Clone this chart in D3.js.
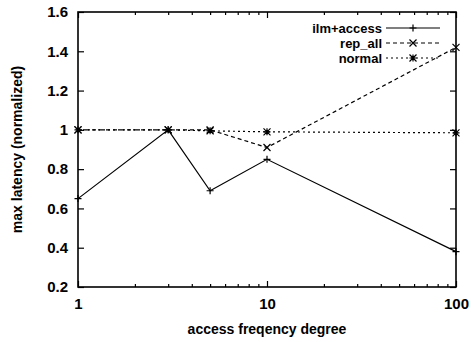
<!DOCTYPE html>
<html>
<head>
<meta charset="utf-8">
<script src="https://cdn.jsdelivr.net/npm/d3@7"></script>
<style>
  body { margin: 0; background: #fff; }
  text { font-family: "Liberation Sans", Arial, sans-serif; font-weight: bold; fill: #000; }
</style>
</head>
<body>
<div id="chart"></div>
<script>
// data
var degrees = [1, 3, 5, 10, 100];
var ilmAccess = [0.65, 1.0, 0.69, 0.85, 0.38];
var repAll = [1.0, 1.0, 1.0, 0.91, 1.42];
var normal = [1.0, 1.0, 0.995, 0.99, 0.985];
var seriesNames = ["ilm+access", "rep_all", "normal"];
var yTicks = [0.2, 0.4, 0.6, 0.8, 1, 1.2, 1.4, 1.6];
var xTicks = [1, 10, 100];

var svgWidth = 471, svgHeight = 342;
var margin = {top: 12, right: 15, bottom: 55, left: 78};
var width = svgWidth - margin.left - margin.right;
var height = svgHeight - margin.top - margin.bottom;

var svg = d3.select("#chart").append("svg")
  .attr("width", svgWidth)
  .attr("height", svgHeight);
var chartGroup = svg.append("g")
  .attr("transform", `translate(${margin.left}, ${margin.top})`);

var x = d3.scaleLog().domain([1, 100]).range([0, width]);
var y = d3.scaleLinear().domain([0.2, 1.6]).range([height, 0]);

// minor ticks for the log axis
var minor = [];
[1, 10].forEach(function (d) {
  for (var k = 2; k <= 9; k++) minor.push(d * k);
});

// bottom + top axes
chartGroup.append("g")
  .attr("transform", `translate(0, ${height})`)
  .call(d3.axisBottom(x).tickValues(xTicks).tickFormat(d3.format("d")).tickSizeInner(-6).tickSizeOuter(0).tickPadding(11))
  .call(g => g.select(".domain").remove());
chartGroup.append("g")
  .attr("transform", `translate(0, ${height})`)
  .call(d3.axisBottom(x).tickValues(minor).tickFormat("").tickSizeInner(-3).tickSizeOuter(0))
  .call(g => g.select(".domain").remove());
chartGroup.append("g")
  .call(d3.axisTop(x).tickValues(xTicks).tickFormat("").tickSizeInner(-6).tickSizeOuter(0))
  .call(g => g.select(".domain").remove());
chartGroup.append("g")
  .call(d3.axisTop(x).tickValues(minor).tickFormat("").tickSizeInner(-3).tickSizeOuter(0))
  .call(g => g.select(".domain").remove());

// left + right axes
chartGroup.append("g")
  .call(d3.axisLeft(y).tickValues(yTicks).tickFormat(d3.format("~g")).tickSizeInner(-6).tickSizeOuter(0).tickPadding(10))
  .call(g => g.select(".domain").remove());
chartGroup.append("g")
  .attr("transform", `translate(${width}, 0)`)
  .call(d3.axisRight(y).tickValues(yTicks).tickFormat("").tickSizeInner(-6).tickSizeOuter(0))
  .call(g => g.select(".domain").remove());

chartGroup.selectAll(".tick text").style("font-size", "15px").style("font-family", "Liberation Sans, Arial, sans-serif").style("font-weight", "bold");
chartGroup.selectAll(".tick line").attr("stroke", "#000").attr("stroke-width", 1.2);

// frame
chartGroup.append("rect")
  .attr("width", width).attr("height", height)
  .attr("fill", "none").attr("stroke", "#000").attr("stroke-width", 1.6);

// markers in gnuplot style
function markerPath(type, s) {
  if (type === 0) return `M${-s},0H${s}M0,${-s}V${s}`;
  if (type === 1) return `M${-s},${-s}L${s},${s}M${-s},${s}L${s},${-s}`;
  return `M${-s},0H${s}M0,${-s}V${s}M${-s},${-s}L${s},${s}M${-s},${s}L${s},${-s}`;
}
var dashes = [null, "4,3", "2,3"];
var allSeries = [ilmAccess, repAll, normal];

var line = d3.line()
  .x(d => x(d[0]))
  .y(d => y(d[1]));

allSeries.forEach(function (vals, i) {
  var pts = degrees.map((d, j) => [d, vals[j]]);
  chartGroup.append("path")
    .datum(pts)
    .attr("d", line)
    .attr("fill", "none")
    .attr("stroke", "#000")
    .attr("stroke-width", 1.2)
    .attr("stroke-dasharray", dashes[i]);
  chartGroup.selectAll(".m" + i)
    .data(pts)
    .enter()
    .append("path")
    .attr("transform", d => `translate(${x(d[0])}, ${y(d[1])})`)
    .attr("d", markerPath(i, 3.5))
    .attr("fill", "none")
    .attr("stroke", "#000")
    .attr("stroke-width", 1.2);
});

// legend
var legend = svg.append("g");
seriesNames.forEach(function (name, i) {
  var ly = 28 + i * 15;
  legend.append("text")
    .attr("x", 382)
    .attr("y", ly)
    .attr("dy", "0.35em")
    .attr("text-anchor", "end")
    .style("font-size", "13px")
    .text(name);
  legend.append("line")
    .attr("x1", 386).attr("x2", 440)
    .attr("y1", ly).attr("y2", ly)
    .attr("stroke", "#000")
    .attr("stroke-width", 1.2)
    .attr("stroke-dasharray", dashes[i]);
  legend.append("path")
    .attr("transform", `translate(413, ${ly})`)
    .attr("d", markerPath(i, 3.5))
    .attr("fill", "none")
    .attr("stroke", "#000")
    .attr("stroke-width", 1.2);
});

// axes labels
chartGroup.append("text")
  .attr("x", width / 2)
  .attr("y", height + 47)
  .attr("text-anchor", "middle")
  .style("font-size", "14px")
  .text("access freqency degree");

chartGroup.append("text")
  .attr("transform", "rotate(-90)")
  .attr("x", 0 - height / 2)
  .attr("y", 0 - margin.left + 17)
  .attr("dy", "0.35em")
  .attr("text-anchor", "middle")
  .style("font-size", "14px")
  .text("max latency (normalized)");
</script>
</body>
</html>
